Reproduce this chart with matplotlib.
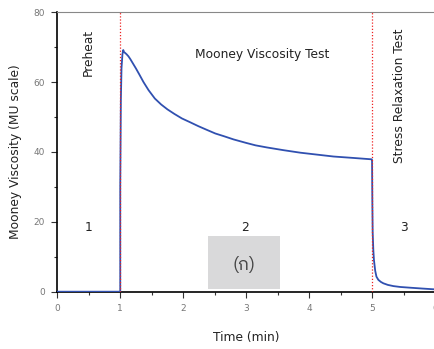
import matplotlib
matplotlib.use("Agg")
import matplotlib.pyplot as plt
from matplotlib.patches import Rectangle
from matplotlib.ticker import MultipleLocator
from matplotlib import font_manager

# Data
time_min = [0.0, 0.5, 1.0, 1.0, 1.01, 1.02, 1.035, 1.048, 1.06, 1.075, 1.1, 1.13, 1.16,
            1.2, 1.25, 1.3, 1.37, 1.45, 1.55, 1.65, 1.75, 1.86, 1.98, 2.1,
            2.24, 2.38, 2.51, 2.65, 2.80, 3.0, 3.15, 3.33, 3.6, 3.86, 4.1, 4.39, 4.7,
            4.995, 5.0, 5.005, 5.01, 5.02, 5.03, 5.05, 5.07, 5.1, 5.14, 5.18, 5.25,
            5.34, 5.45, 5.60, 5.8, 5.97, 6.0]
viscosity = [0.0, 0.0, 0.0, 30.0, 55.0, 64.0, 68.0, 69.2, 68.6, 68.4, 68.0, 67.4, 66.6,
             65.4, 63.9, 62.3, 60.0, 57.7, 55.3, 53.6, 52.2, 50.9, 49.6, 48.6,
             47.4, 46.3, 45.3, 44.5, 43.6, 42.6, 41.9, 41.3, 40.5, 39.8, 39.3, 38.7, 38.3,
             37.9, 37.7, 25.0, 17.0, 12.0, 9.1, 6.0, 4.3, 3.4, 2.8, 2.4, 1.95,
             1.6, 1.35, 1.15, 0.9, 0.7, 0.7]
phase_bounds = [1, 5]
phase_numbers = ["1", "2", "3"]
phase_number_x = [0.5, 2.98, 5.51]

thai_fonts = [f.name for f in font_manager.fontManager.ttflist if 'Thai' in f.name or 'Tahoma' in f.name]
fam = thai_fonts[:1] + ['DejaVu Sans']

fig = plt.figure(figsize=(4.35, 3.49), dpi=100)
ax = fig.add_axes([0.1317, 0.1642, 0.8683, 0.8006])
ax.plot(time_min, viscosity, color='#3050b0', lw=1.3, zorder=3)
for b in phase_bounds:
    ax.axvline(b, color='#ee2222', ls=(0, (1, 1.5)), lw=0.9, zorder=4)

ax.set_xlim(0, 6)
ax.set_ylim(0, 80)
ax.xaxis.set_major_locator(MultipleLocator(1))
ax.xaxis.set_minor_locator(MultipleLocator(0.5))
ax.yaxis.set_major_locator(MultipleLocator(20))
ax.yaxis.set_minor_locator(MultipleLocator(10))
ax.tick_params(which='major', length=4, width=0.8, labelsize=6.5, labelcolor='#777777', color='#333333', pad=5)
ax.tick_params(which='minor', length=2.5, width=0.8, color='#333333')
ax.spines['right'].set_visible(False)
ax.spines['top'].set_color('#888888')
ax.spines['left'].set_linewidth(1.2)
ax.spines['bottom'].set_linewidth(1.2)

ax.set_xlabel('Time (min)', fontsize=8.8, color='#222222', labelpad=13)
ax.set_ylabel('Mooney Viscosity (MU scale)', fontsize=8.8, color='#222222', labelpad=8)

ax.text(0.49, 68.4, 'Preheat', rotation=90, fontsize=8.8, ha='center', va='center', color='#222222')
ax.text(3.25, 67.8, 'Mooney Viscosity Test', fontsize=8.8, ha='center', va='center', color='#222222')
ax.text(5.44, 56, 'Stress Relaxation Test', rotation=90, fontsize=8.8, ha='center', va='center', color='#222222')
for t, xv in zip(phase_numbers, phase_number_x):
    ax.text(xv, 18.3, t, fontsize=8.8, ha='center', va='center', color='#222222')

ax.add_patch(Rectangle((2.39, 0.8), 1.14, 15.2, facecolor='#d9d9da', edgecolor='none', zorder=2))
ax.text(2.96, 7.6, '(ก)', fontsize=13, ha='center', va='center', color='#444444', family=fam, zorder=5)

fig.savefig('out.png', dpi=100)
